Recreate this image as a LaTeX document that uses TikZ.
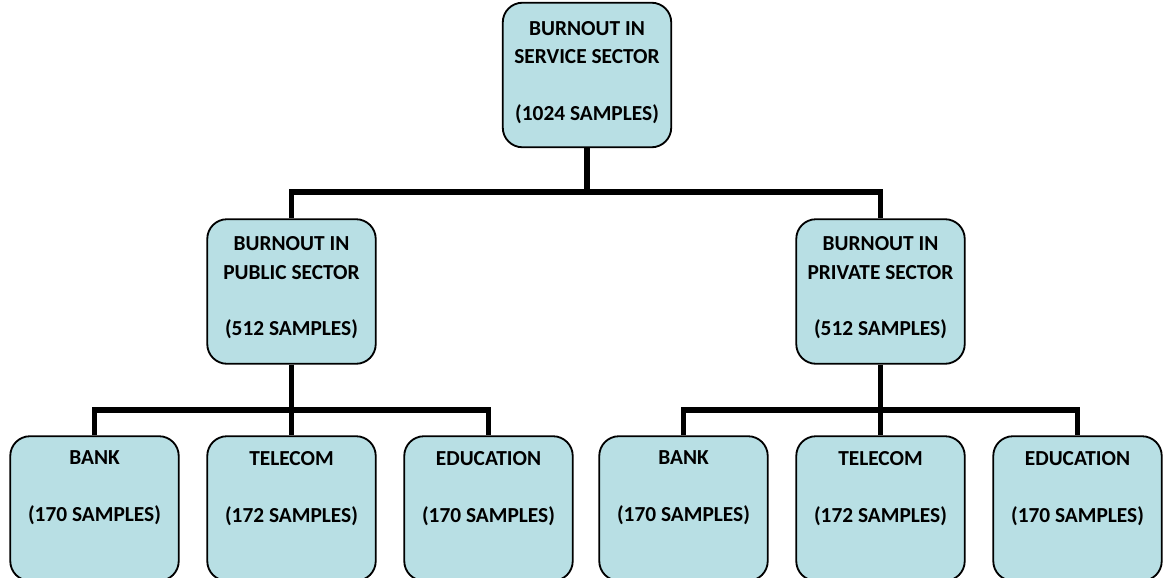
\documentclass[tikz,border=0pt]{standalone}
\usepackage{fontspec}
\setmainfont{Carlito}
\usetikzlibrary{positioning}
\definecolor{boxfill}{RGB}{184,223,228}
\tikzset{
  box/.style={draw=black, line width=1.3pt, rounded corners=14pt, fill=boxfill,
    minimum width=119.8pt, minimum height=102.8pt},
  txt/.style={align=center, inner sep=0pt, font=\fontsize{15.2}{20.5}\selectfont\bfseries},
  link/.style={line width=3.6pt, line join=miter}
}
\begin{document}
\begin{tikzpicture}[x=0.025cm, y=-0.025cm]
    \useasboundingbox (0,0) rectangle (1165,578);
    \clip (0,0) rectangle (1165,578);%下面一排方框被图边截断
    % 第一层
    \node[box] (service) at (587,75) {};
    \node[txt, below=13.5pt of service.north] (service-t) {BURNOUT IN\\SERVICE SECTOR\\[20pt](1024 SAMPLES)};
    % 第二层
    \node[box] (public) at (291.5,291.5) {};
    \node[txt, below=12.5pt of public.north] (public-t) {BURNOUT IN\\PUBLIC SECTOR\\[20pt](512 SAMPLES)};
    \node[box] (private) at (880.5,291.5) {};
    \node[txt, below=12.5pt of private.north] (private-t) {BURNOUT IN\\PRIVATE SECTOR\\[20pt](512 SAMPLES)};
    % 第三层
    \node[box] (pubbank) at (94.5,508.5) {};
    \node[txt, below=11pt of pubbank.north] (pubbank-t) {BANK\\[20pt](170 SAMPLES)};
    \node[box] (pubtel) at (291.5,508.5) {};
    \node[txt, below=11pt of pubtel.north] (pubtel-t) {TELECOM\\[20pt](172 SAMPLES)};
    \node[box] (pubedu) at (488.5,508.5) {};
    \node[txt, below=11pt of pubedu.north] (pubedu-t) {EDUCATION\\[20pt](170 SAMPLES)};
    \node[box] (pribank) at (683.5,508.5) {};
    \node[txt, below=11pt of pribank.north] (pribank-t) {BANK\\[20pt](170 SAMPLES)};
    \node[box] (pritel) at (880.5,508.5) {};
    \node[txt, below=11pt of pritel.north] (pritel-t) {TELECOM\\[20pt](172 SAMPLES)};
    \node[box] (priedu) at (1077.5,508.5) {};
    \node[txt, below=11pt of priedu.north] (priedu-t) {EDUCATION\\[20pt](170 SAMPLES)};
    % 连线
    \coordinate (j0) at (587,192);
    \coordinate (j1) at (291.5,410);
    \coordinate (j2) at (880.5,410);
    \draw[link] (service.south) -- (j0);
    \draw[link] (public.north) |- (j0) -| (private.north);
    \draw[link] (public.south) -- (pubtel.north);%竖线穿过横线
    \draw[link] (pubbank.north) |- (j1) -| (pubedu.north);
    \draw[link] (private.south) -- (pritel.north);
    \draw[link] (pribank.north) |- (j2) -| (priedu.north);
\end{tikzpicture}
\end{document}
